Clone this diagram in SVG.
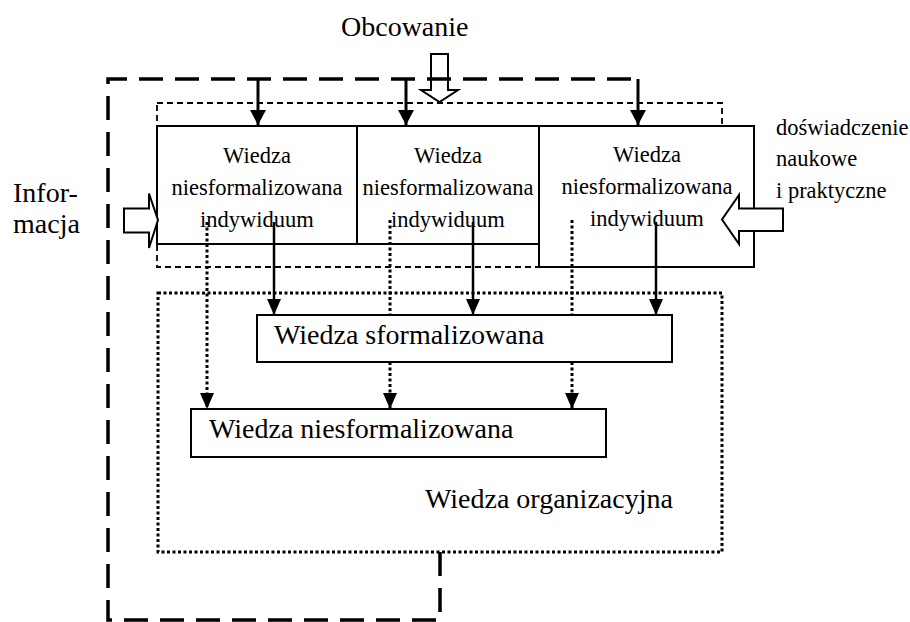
<svg xmlns="http://www.w3.org/2000/svg" width="910" height="622" viewBox="0 0 910 622">
<style>
text{font-family:'Liberation Serif','DejaVu Serif','Noto Serif',serif;fill:#000}
.big{font-size:28px}
.sm{font-size:22.5px}
.box{fill:#fff;stroke:#000;stroke-width:2}
.outer{fill:none;stroke:#000;stroke-width:3.5;stroke-dasharray:24 12}
.inner{fill:none;stroke:#000;stroke-width:1.8;stroke-dasharray:6 4}
.dotbox{fill:none;stroke:#000;stroke-width:3;stroke-dasharray:3 2.5}
.drop{fill:none;stroke:#000;stroke-width:3}
.sol{fill:none;stroke:#000;stroke-width:2.5}
.dot{fill:none;stroke:#000;stroke-width:3;stroke-dasharray:3 2.5}
.blk{fill:#fff;stroke:#000;stroke-width:2}
</style>
<defs>
<marker id="ah1" markerUnits="userSpaceOnUse" markerWidth="15" markerHeight="16" refX="15" refY="8" orient="auto"><path d="M0,0 L15,8 L0,16 z" fill="#000"/></marker>
<marker id="ah2" markerUnits="userSpaceOnUse" markerWidth="16" markerHeight="14" refX="16" refY="7" orient="auto"><path d="M0,0 L16,7 L0,14 z" fill="#000"/></marker>
</defs>

<g id="frames">
<path class="outer" d="M440 552 L440 620 L108 620 L108 79 L638 79"/>
<rect class="inner" x="157" y="103" width="565" height="164"/>
<rect class="dotbox" x="158" y="293" width="564" height="259"/>
</g>

<g id="node-indywiduum-1">
<rect class="box" x="157" y="126" width="200" height="118"/>
<text class="sm" x="257" y="163" text-anchor="middle">Wiedza</text>
<text class="sm" x="257" y="195" text-anchor="middle">niesformalizowana</text>
<text class="sm" x="257" y="227" text-anchor="middle">indywiduum</text>
</g>
<g id="node-indywiduum-2">
<rect class="box" x="357" y="126" width="182" height="118"/>
<text class="sm" x="448" y="163" text-anchor="middle">Wiedza</text>
<text class="sm" x="448" y="195" text-anchor="middle">niesformalizowana</text>
<text class="sm" x="448" y="227" text-anchor="middle">indywiduum</text>
</g>
<g id="node-indywiduum-3">
<rect class="box" x="539" y="126" width="215" height="141"/>
<text class="sm" x="647" y="162" text-anchor="middle">Wiedza</text>
<text class="sm" x="647" y="194" text-anchor="middle">niesformalizowana</text>
<text class="sm" x="647" y="226" text-anchor="middle">indywiduum</text>
</g>

<g id="node-sformalizowana">
<rect class="box" x="257" y="315" width="415" height="47"/>
<text class="big" x="274" y="344">Wiedza sformalizowana</text>
</g>
<g id="node-niesformalizowana">
<rect class="box" x="191" y="409" width="415" height="48"/>
<text class="big" x="209" y="438">Wiedza niesformalizowana</text>
</g>

<g id="node-organizacyjna">
<text class="big" x="425" y="508">Wiedza organizacyjna</text>
</g>

<g id="node-obcowanie">
<text class="big" x="341" y="36">Obcowanie</text>
<path d="M431 54 L448 54 L448 90 L458 90 L439.5 102 L421 90 L431 90 Z" fill="none" stroke="#000" stroke-width="2"/>
</g>

<g id="node-informacja">
<text class="big" x="13" y="202">Infor-</text>
<text class="big" x="13" y="233">macja</text>
<path class="blk" d="M124 208.5 L149 208.5 L149 193.5 L158 220 L149 248 L149 232.5 L124 232.5 Z"/>
</g>

<g id="node-doswiadczenie">
<text class="sm" x="776" y="135">doświadczenie</text>
<text class="sm" x="776" y="166">naukowe</text>
<text class="sm" x="776" y="198">i praktyczne</text>
<path class="blk" d="M783 208.5 L739 208.5 L739 195 L722 219.5 L739 244 L739 231 L783 231 Z"/>
</g>

<g id="connectors">
<path class="drop" d="M258 79 L258 125" marker-end="url(#ah1)"/>
<path class="drop" d="M406 79 L406 125" marker-end="url(#ah1)"/>
<path class="drop" d="M638 79 L638 125" marker-end="url(#ah1)"/>
<path class="sol" d="M274 222 L274 315" marker-end="url(#ah2)"/>
<path class="sol" d="M473 222 L473 315" marker-end="url(#ah2)"/>
<path class="sol" d="M656 222 L656 315" marker-end="url(#ah2)"/>
<path class="dot" d="M207 222 L207 409" marker-end="url(#ah2)"/>
<path class="dot" d="M390 220 L390 315"/>
<path class="dot" d="M390 362 L390 409" marker-end="url(#ah2)"/>
<path class="dot" d="M572 220 L572 315"/>
<path class="dot" d="M572 362 L572 409" marker-end="url(#ah2)"/>
</g>
</svg>
